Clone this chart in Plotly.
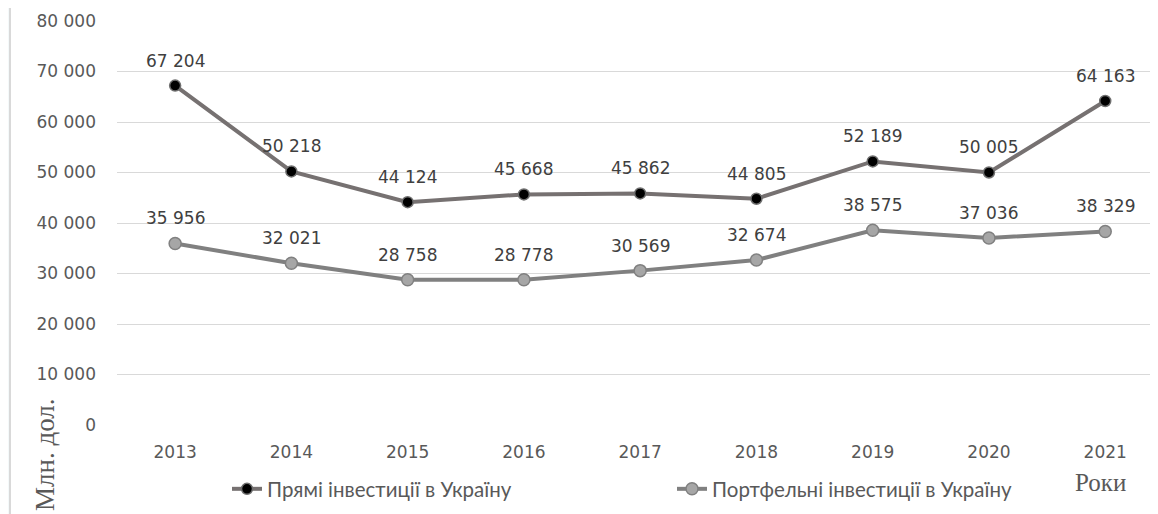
import plotly.graph_objects as go

years = ["2013", "2014", "2015", "2016", "2017", "2018", "2019", "2020", "2021"]
direct = [67204, 50218, 44124, 45668, 45862, 44805, 52189, 50005, 64163]
portfolio = [35956, 32021, 28758, 28778, 30569, 32674, 38575, 37036, 38329]
name_direct = "Прямі інвестиції в Україну"
name_portfolio = "Портфельні інвестиції в Україну"
y_ticks = [0, 10000, 20000, 30000, 40000, 50000, 60000, 70000, 80000]

def fmt(v):
    return f"{v:,}".replace(",", " ")

OFF = 8  # default page body margin
W, H = 1158 - OFF, 514 - OFF
# plot area in page pixels: left 117, right 1158, top 21, bottom 425
ml, mr, mt, mb = 117 - OFF, 0, 21 - OFF, 514 - 425
pw, ph = W - ml - mr, H - mt - mb

def px(xp):  # page x -> paper x
    return (xp - OFF - ml) / pw

def py(yp):  # page y -> paper y
    return (mt + ph - (yp - OFF)) / ph

TICKFONT = dict(family="DejaVu Sans", size=17, color="#595959")

fig = go.Figure()
fig.add_trace(go.Scatter(
    x=years, y=direct, name=name_direct, mode="lines+markers",
    line=dict(color="#767171", width=4),
    marker=dict(color="#000000", size=11, line=dict(color="#6f6f6f", width=1.5)),
))
fig.add_trace(go.Scatter(
    x=years, y=portfolio, name=name_portfolio, mode="lines+markers",
    line=dict(color="#808080", width=4),
    marker=dict(color="#a6a6a6", size=12, line=dict(color="#808080", width=1.5)),
))

ann = []
for series in (direct, portfolio):
    for i, v in enumerate(series):
        ann.append(dict(x=i, y=v, xref="x", yref="y", text=fmt(v), showarrow=False,
                        yshift=25, font=dict(family="DejaVu Sans", size=17, color="#404040")))
ann.append(dict(x=px(1100), y=py(483), xref="paper", yref="paper",
                xanchor="center", yanchor="middle",
                text="Роки", showarrow=False,
                font=dict(family="Liberation Serif", size=25, color="#595959")))
ann.append(dict(x=px(45), y=py(455), xref="paper", yref="paper",
                xanchor="center", yanchor="middle",
                text="Млн. дол.", showarrow=False, textangle=-90,
                font=dict(family="Liberation Serif", size=27, color="#595959")))

fig.update_layout(
    width=W, height=H, autosize=False,
    margin=dict(l=ml, r=mr, t=mt, b=mb, autoexpand=False),
    paper_bgcolor="#f4f9fa", plot_bgcolor="white",
    annotations=ann,
    shapes=[dict(type="rect", xref="paper", yref="paper",
                 x0=px(10), x1=px(1165),
                 y0=py(520), y1=py(7),
                 fillcolor="white", line=dict(color="#d9d9d9", width=2), layer="below")],
    showlegend=True,
    legend=dict(orientation="h", x=px(227), xanchor="left",
                y=py(489), yanchor="middle",
                bgcolor="rgba(0,0,0,0)", entrywidth=400, entrywidthmode="pixels",
                font=dict(family="Lato", size=20.5, color="#595959")),
    xaxis=dict(type="category", range=[-0.5, 8.454], showgrid=False, showline=False,
               ticks="", zeroline=False, automargin=False,
               tickfont=TICKFONT, ticklabelstandoff=15),
    yaxis=dict(range=[0, 80000], tickvals=y_ticks, ticktext=[fmt(v) for v in y_ticks],
               showgrid=True, gridcolor="#d9d9d9", gridwidth=1, zeroline=False,
               automargin=False, tickfont=TICKFONT, ticklabelstandoff=20),
    font=dict(family="Lato"),
)
fig.write_html("out.html")
